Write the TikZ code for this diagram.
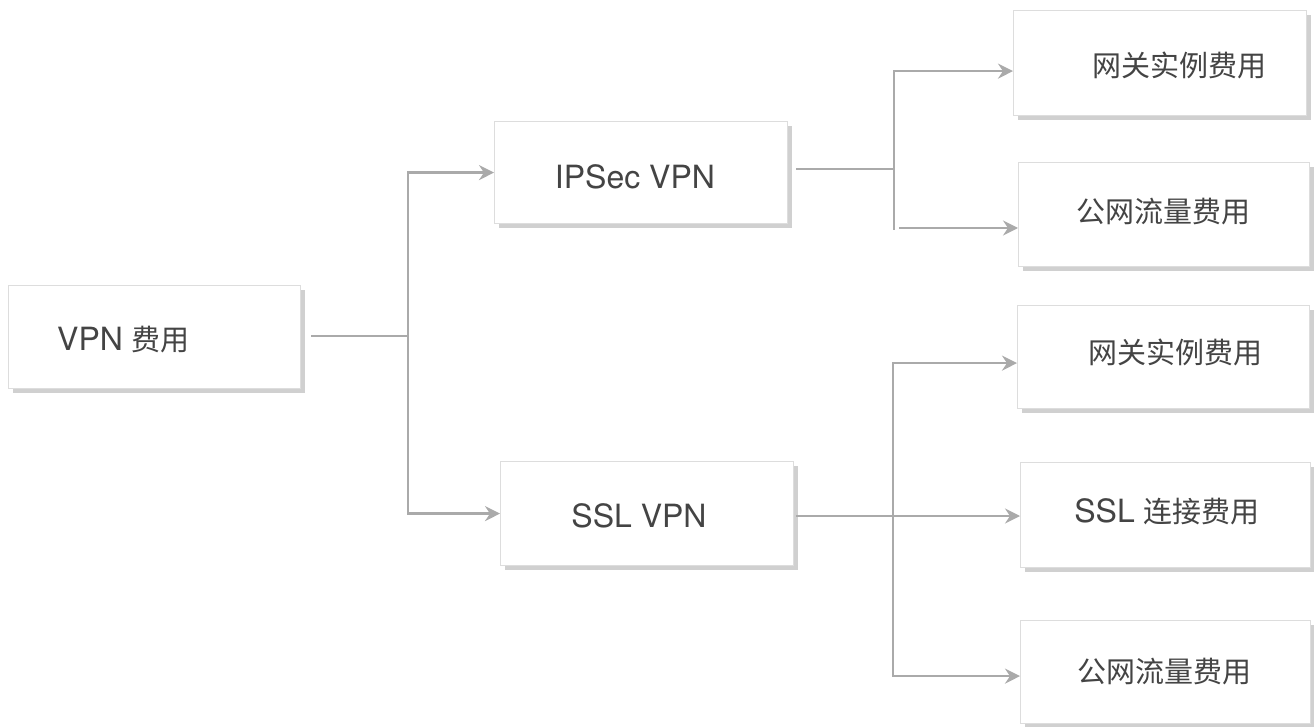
\documentclass[tikz,border=0pt]{standalone}
\usepackage{fontspec}
\setmainfont{TeX Gyre Heros}
\newfontfamily\cjk{Noto Sans CJK SC}
\usetikzlibrary{arrows.meta,shadows}
\definecolor{txt}{HTML}{444444}
\definecolor{ln}{HTML}{AAAAAA}
\definecolor{bd}{HTML}{DDDDDD}
\definecolor{sh}{HTML}{D0D0D0}
\tikzset{
  box/.style={rectangle, anchor=north west, draw=bd, line width=1.2pt, fill=white, inner sep=0pt,
    drop shadow={shadow xshift=4pt, shadow yshift=-4pt, fill=sh, opacity=1}},
  lbl/.style={text=txt, font=\fontsize{32}{38}\selectfont, inner sep=0pt},
  conn/.style={draw=ln, line width=2.6pt},
  arr/.style={conn, -{Stealth[length=15pt, width=15pt, inset=5pt]}}
}
\begin{document}
\begin{tikzpicture}[x=1pt,y=-1pt]
\useasboundingbox (0,0) rectangle (1314,727);
% boxes
\node[box, minimum width=292pt, minimum height=103pt] (vpn) at (8,285) {};
\node[box, minimum width=293pt, minimum height=102pt] (ipsec) at (494,121) {};
\node[box, minimum width=293pt, minimum height=104pt] (ssl) at (500,461) {};
\node[box, minimum width=293pt, minimum height=105pt] (g1) at (1013,10) {};
\node[box, minimum width=291pt, minimum height=104pt] (t1) at (1018,162) {};
\node[box, minimum width=292pt, minimum height=103pt] (g2) at (1017,305) {};
\node[box, minimum width=290pt, minimum height=105pt] (c2) at (1020,462) {};
\node[box, minimum width=290pt, minimum height=103pt] (t2) at (1020,620) {};
% labels
\node[lbl, anchor=west] (vpnl) at (57,340) {VPN {\cjk\fontsize{29}{35}\selectfont 费用}};
\node[lbl] (ipsecl) at (635,177) {IPSec VPN};
\node[lbl] (ssll) at (639,516) {SSL VPN};
\node[lbl, font=\cjk\fontsize{29}{35}\selectfont] (g1l) at (1179,65) {网关实例费用};
\node[lbl, font=\cjk\fontsize{29}{35}\selectfont] (t1l) at (1163,212) {公网流量费用};
\node[lbl, font=\cjk\fontsize{29}{35}\selectfont] (g2l) at (1175,352) {网关实例费用};
\node[lbl] (c2l) at (1167,512) {SSL {\cjk\fontsize{29}{35}\selectfont 连接费用}};
\node[lbl, font=\cjk\fontsize{29}{35}\selectfont] (t2l) at (1164,672) {公网流量费用};
% junctions
\coordinate (j1) at (408,336);
\coordinate (j2) at (894,169);
\coordinate (j2b) at (894,230);
\coordinate (j2c) at (899,228);
\coordinate (j3) at (893,516);
% connectors
\draw[conn] ([xshift=10pt]vpn.east |- j1) -- (j1);
\draw[arr] (j1) |- (ipsec.west);
\draw[arr] (j1) |- (ssl.west);
\draw[conn] ([xshift=8pt]ipsec.east |- j2) -- (j2);
\draw[arr] (j2b) |- ([yshift=-8pt]g1.west);
\draw[arr] (j2c) -- (t1.west |- j2c);
\draw[conn] ([xshift=2pt]ssl.east |- j3) -- (j3);
\draw[arr] (j3) |- ([yshift=-6pt]g2.west);
\draw[arr] (j3) -- (c2.west |- j3);
\draw[arr] (j3) |- ([yshift=-4pt]t2.west);
\end{tikzpicture}
\end{document}
